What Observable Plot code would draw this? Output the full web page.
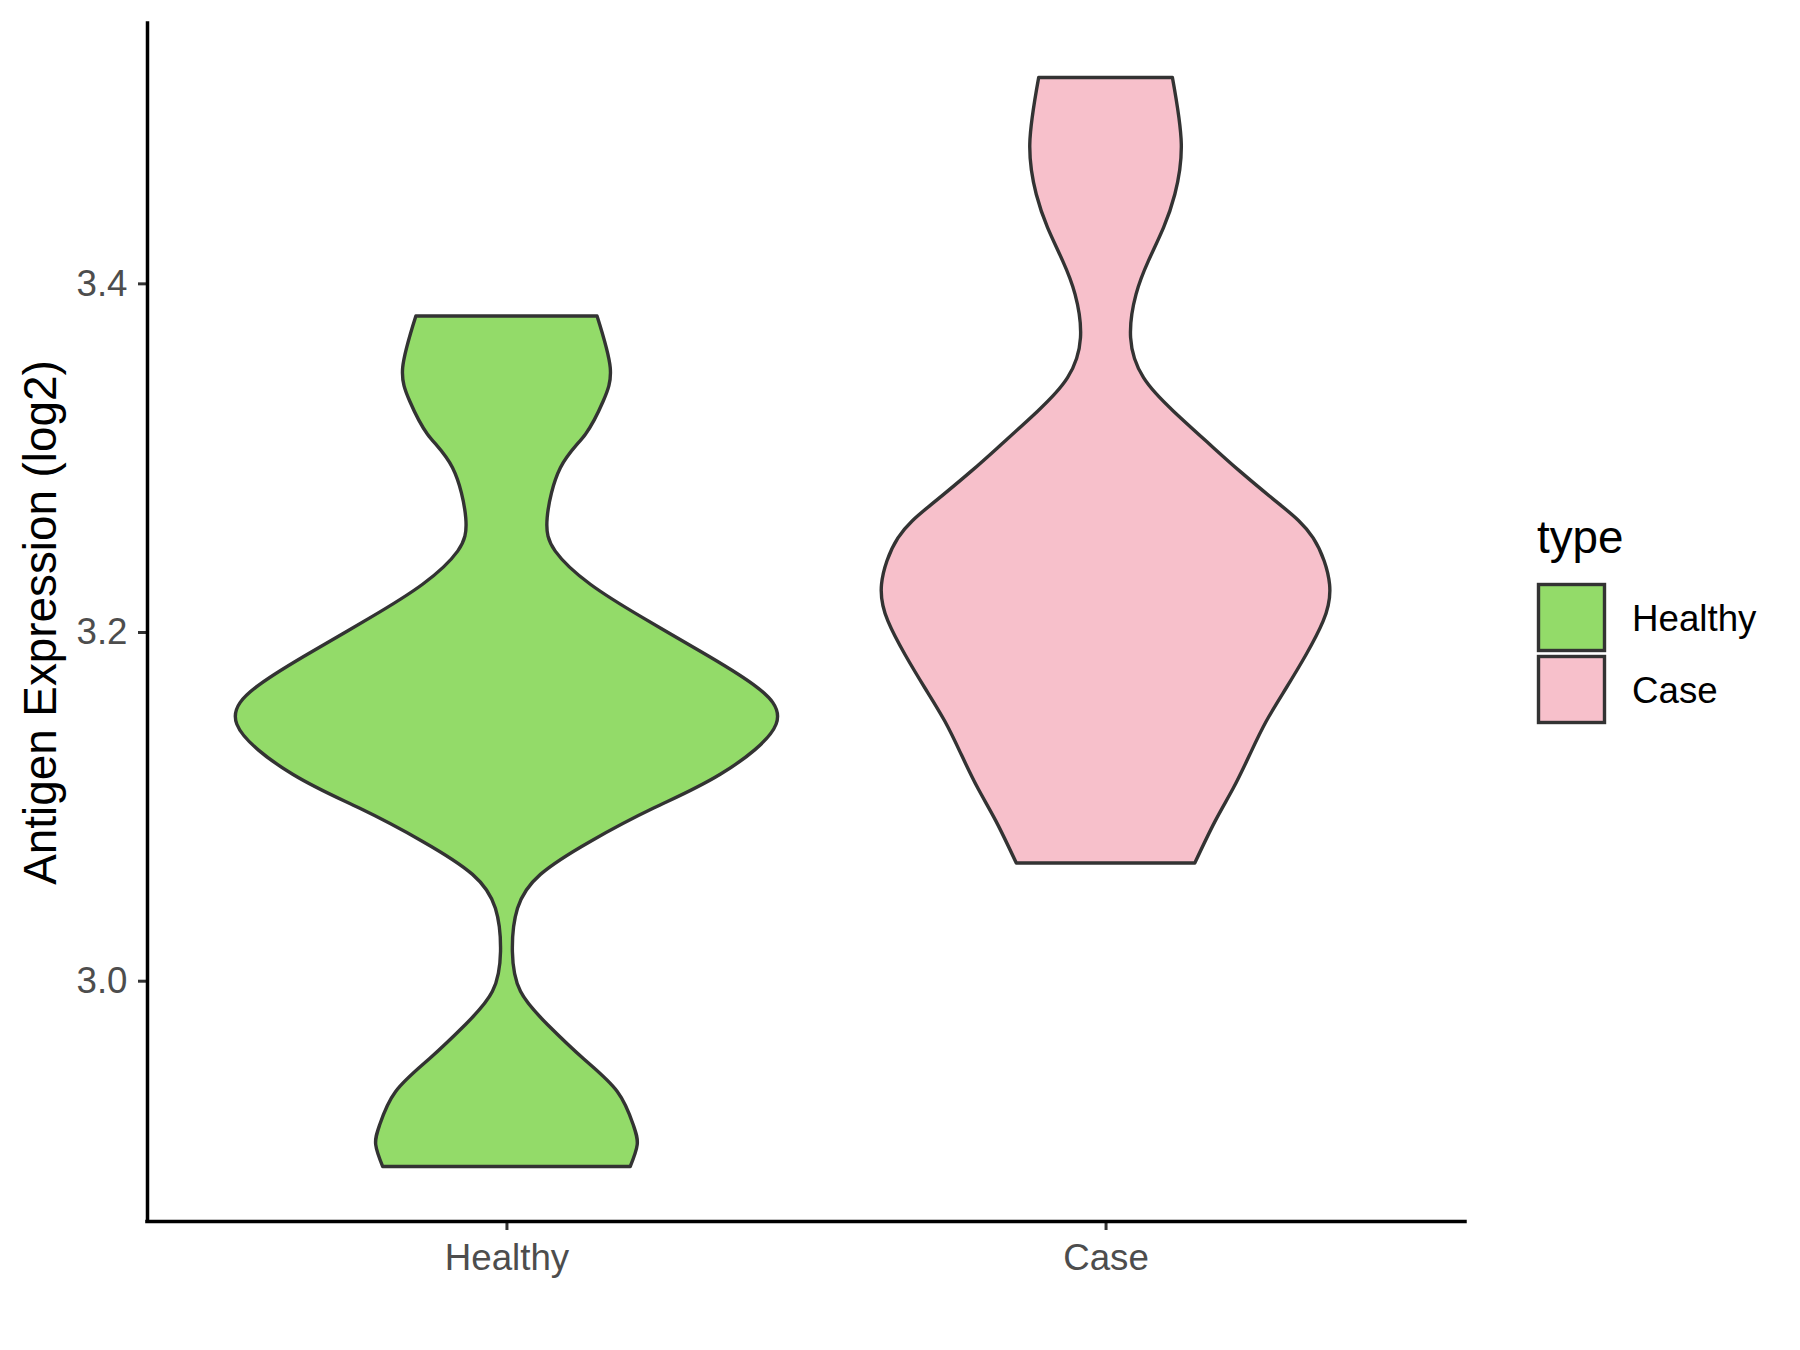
<!DOCTYPE html>
<html>
<head>
<meta charset="utf-8">
<script src="https://cdn.jsdelivr.net/npm/d3@7"></script>
<script src="https://cdn.jsdelivr.net/npm/@observablehq/plot@0.6"></script>
<style>
  html, body { margin: 0; padding: 0; background: #fff; }
  #wrap { position: relative; width: 1800px; height: 1350px; font-family: "Liberation Sans", Arial, sans-serif; }
  #legend { position: absolute; left: 0; top: 0; }
</style>
</head>
<body>
<div id="wrap"></div>
<script>
// ---- data ----
const categories = ["Healthy", "Case"];
const colors = ["#93DB69", "#F7C0CB"];
const yTicks = [3.0, 3.2, 3.4];
const yTitle = "Antigen Expression (log2)";
const legendTitle = "type";

// violin profiles: value (log2) and relative density width (Healthy max = 1)
const healthyY = [3.3813, 3.3516, 3.3325, 3.3135, 3.2942, 3.2655, 3.2464, 3.2274, 3.2081, 3.1890, 3.1700, 3.1471, 3.1184, 3.0989, 3.0799, 3.0610, 3.0415, 3.0168, 2.9939, 2.9749, 2.9554, 2.9365, 2.9175, 2.9060, 2.8934];
const healthyDensity = [0.336, 0.385, 0.359, 0.293, 0.200, 0.151, 0.181, 0.311, 0.507, 0.719, 0.915, 1.000, 0.793, 0.544, 0.311, 0.126, 0.041, 0.022, 0.052, 0.152, 0.285, 0.411, 0.470, 0.485, 0.459];
const caseY = [3.5181, 3.4799, 3.4511, 3.4320, 3.4129, 3.3937, 3.3688, 3.3459, 3.3267, 3.3076, 3.2923, 3.2732, 3.2540, 3.2273, 3.2062, 3.1871, 3.1679, 3.1488, 3.1297, 3.1105, 3.0914, 3.0675];
const caseDensity = [0.248, 0.281, 0.257, 0.215, 0.159, 0.113, 0.093, 0.141, 0.252, 0.387, 0.498, 0.646, 0.770, 0.831, 0.807, 0.744, 0.670, 0.596, 0.535, 0.474, 0.406, 0.331];

// ---- build table ----
const profiles = [[healthyY, healthyDensity], [caseY, caseDensity]];
const rows = [];
profiles.forEach(([ys, ds], i) => {
  ys.forEach((y, j) => rows.push({type: categories[i], pos: i + 1, y, d: ds[j]}));
});

const violinWidth = 0.9;
const xDomain = [0.4, categories.length + 0.6];
const allY = rows.map(r => r.y);
const yMin = d3.min(allY), yMax = d3.max(allY);
const pad = (yMax - yMin) * 0.05;
const yDomain = [yMin - pad, yMax + pad];

const font = "'Liberation Sans', Arial, sans-serif";

const chart = Plot.plot({
  width: 1800,
  height: 1350,
  marginLeft: 147,
  marginRight: 335,
  marginTop: 23,
  marginBottom: 129,
  x: {domain: xDomain, axis: null},
  y: {domain: yDomain, axis: null},
  color: {domain: categories, range: colors},
  style: {fontFamily: font, background: "#fff"},
  marks: [
    Plot.areaX(rows, {
      y: "y",
      x1: r => r.pos - r.d * violinWidth / 2,
      x2: r => r.pos + r.d * violinWidth / 2,
      z: "type",
      fill: "type",
      stroke: "#333333",
      strokeWidth: 3.4,
      strokeLinejoin: "round",
      curve: "natural"
    }),
    Plot.axisY(yTicks, {
      tickSize: 9, tickPadding: 11,
      tickFormat: d3.format(".1f"),
      fontSize: 36.7, fill: "#4D4D4D",
      stroke: "#333333", strokeWidth: 3,
      label: null
    }),
    Plot.axisX(categories.map((c, i) => i + 1), {
      tickSize: 9, tickPadding: 13,
      tickFormat: d => categories[d - 1],
      fontSize: 36.7, fill: "#4D4D4D",
      stroke: "#333333", strokeWidth: 3,
      label: null
    }),
    Plot.ruleX([xDomain[0]], {stroke: "#000", strokeWidth: 3.5, strokeLinecap: "square"}),
    Plot.ruleY([yDomain[0]], {stroke: "#000", strokeWidth: 3.5, strokeLinecap: "square"}),
    Plot.text([yTitle], {
      frameAnchor: "left", dx: -106, rotate: -90,
      fontSize: 45.8, fill: "#000", textAnchor: "middle", lineAnchor: "middle"
    })
  ]
});

const wrap = document.getElementById("wrap");
wrap.appendChild(chart);

// ---- legend ----
const legend = d3.select(wrap).append("svg")
  .attr("id", "legend")
  .attr("width", 1800).attr("height", 1350)
  .style("pointer-events", "none")
  .style("font-family", font);

legend.append("text")
  .attr("x", 1537).attr("y", 553)
  .attr("font-size", 45.8).attr("fill", "#000")
  .text(legendTitle);

const keys = legend.selectAll("g.key").data(categories).join("g").attr("class", "key")
  .attr("transform", (d, i) => `translate(1538,${584 + i * 72})`);
keys.append("rect")
  .attr("x", 0.5).attr("y", 0.5).attr("width", 66).attr("height", 66)
  .attr("fill", (d, i) => colors[i]).attr("stroke", "#333333").attr("stroke-width", 3.4);
keys.append("text")
  .attr("x", 94).attr("y", 34)
  .attr("dominant-baseline", "central")
  .attr("font-size", 36.7).attr("fill", "#000")
  .text(d => d);
</script>
</body>
</html>
